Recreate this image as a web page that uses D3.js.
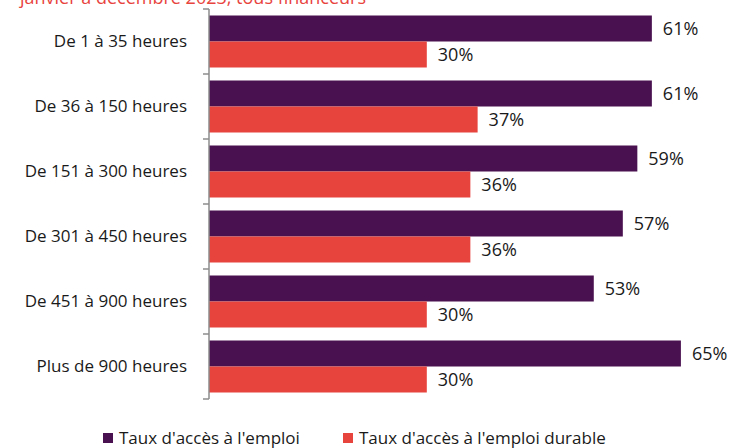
<!DOCTYPE html>
<html>
<head>
<meta charset="utf-8">
<script src="https://cdn.jsdelivr.net/npm/d3@7"></script>
<style>
  body { margin: 0; background: #fff; }
  svg { display: block; font-family: "Open Sans", "Liberation Sans", sans-serif; }
</style>
</head>
<body>
<script>
var svgWidth = 733,
    svgHeight = 448;

// data
var categories = ["De 1 à 35 heures", "De 36 à 150 heures", "De 151 à 300 heures",
                  "De 301 à 450 heures", "De 451 à 900 heures", "Plus de 900 heures"];
var emploi = [61, 61, 59, 57, 53, 65];          // Taux d'accès à l'emploi
var durable = [30, 37, 36, 36, 30, 30];         // Taux d'accès à l'emploi durable
var seriesNames = ["Taux d'accès à l'emploi", "Taux d'accès à l'emploi durable"];
var colors = ["#4a1150", "#e8443e"];

var margin = { left: 209, top: 9 };

var svg = d3.select("body").append("svg")
    .attr("width", svgWidth)
    .attr("height", svgHeight);

// subtitle, mostly cut off by the top edge
svg.append("text")
    .attr("x", 20)
    .attr("y", 4)
    .style("fill", "#e8443e")
    .style("font-size", "18px")
    .text("janvier à décembre 2023, tous financeurs");

var x = d3.scaleLinear().domain([0, 100]).range([margin.left, margin.left + 726]);
var y = d3.scaleBand().domain(categories).range([margin.top, 399]).paddingInner(0.2).paddingOuter(0.1);
var ySub = d3.scaleBand().domain([0, 1]).range([0, y.bandwidth()]);

// bars
var rows = categories.map(function(c, i) {
    return { cat: c, values: [emploi[i], durable[i]] };
});

var groups = svg.append("g").selectAll("g")
    .data(rows)
    .enter().append("g")
        .attr("transform", function(d) { return "translate(0," + y(d.cat) + ")"; });

groups.selectAll("rect")
    .data(function(d) { return d.values; })
    .enter().append("rect")
        .attr("x", x(0))
        .attr("y", function(d, i) { return ySub(i); })
        .attr("width", function(d) { return x(d) - x(0); })
        .attr("height", ySub.bandwidth())
        .style("fill", function(d, i) { return colors[i]; });

groups.selectAll("text")
    .data(function(d) { return d.values; })
    .enter().append("text")
        .attr("x", function(d) { return x(d) + 11; })
        .attr("y", function(d, i) { return ySub(i) + ySub.bandwidth() / 2; })
        .attr("dy", "0.35em")
        .style("font-size", "18px")
        .style("fill", "#1a1a1a")
        .text(function(d) { return d + "%"; });

// category axis with ticks between the groups
var axisG = svg.append("g");
axisG.append("line")
    .attr("x1", x(0)).attr("x2", x(0))
    .attr("y1", margin.top).attr("y2", 399)
    .style("stroke", "#8c8c8c").style("stroke-width", 1.5);

var tickYs = [margin.top].concat(categories.map(function(c) {
    return y(c) + y.bandwidth() + y.step() * y.paddingInner() / 2;
}));
tickYs[tickYs.length - 1] = 399;
axisG.selectAll(".tick")
    .data(tickYs)
    .enter().append("line")
        .attr("x1", x(0) - 6).attr("x2", x(0))
        .attr("y1", function(d) { return d; })
        .attr("y2", function(d) { return d; })
        .style("stroke", "#8c8c8c").style("stroke-width", 1.5);

axisG.selectAll(".label")
    .data(categories)
    .enter().append("text")
        .attr("x", 187)
        .attr("y", function(d) { return y(d) + y.bandwidth() / 2; })
        .attr("dy", "0.35em")
        .attr("text-anchor", "end")
        .style("font-size", "17px")
        .style("fill", "#1a1a1a")
        .text(function(d) { return d; });

// legend
var legendX = [103, 343];
var legend = svg.append("g").selectAll("g")
    .data(seriesNames)
    .enter().append("g")
        .attr("transform", function(d, i) { return "translate(" + legendX[i] + ",438)"; });

legend.append("rect")
    .attr("x", 0).attr("y", -5)
    .attr("width", 10).attr("height", 10)
    .style("fill", function(d, i) { return colors[i]; });

legend.append("text")
    .attr("x", 16)
    .attr("dy", "0.35em")
    .style("font-size", "17px")
    .style("fill", "#1a1a1a")
    .text(function(d) { return d; });
</script>
</body>
</html>
